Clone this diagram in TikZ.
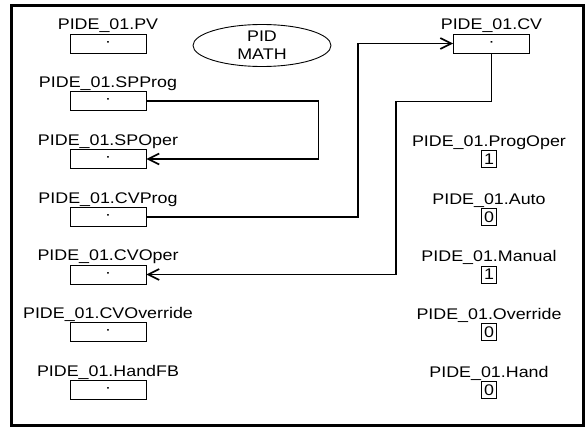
\documentclass[tikz,border=0pt]{standalone}
\usepackage{fontspec}
\setmainfont[FakeStretch=1.16]{Liberation Sans}
\usetikzlibrary{shapes,arrows.meta,positioning}

\begin{document}
\begin{tikzpicture}[x=1pt,y=1pt, node distance=57.75pt, on grid,
  every node/.style={font=\fontsize{15.4}{18}\selectfont},
  every label/.style={inner sep=0pt,text depth=0pt}, label distance=3.5pt,
  tag/.style={draw,line width=0.9pt,minimum width=76pt,minimum height=19pt,inner sep=0pt},
  bit/.style={draw,line width=0.9pt,minimum width=15pt,minimum height=17pt,inner sep=0pt,label distance=5pt},
  wire/.style={line width=1.6pt,-{Straight Barb[length=11pt,width=11pt]}}]
  \useasboundingbox (0,0) rectangle (587,-428);
  \draw[line width=3pt] (11.5,-6) rectangle (583.5,-425.5);

  % Tags on the left
  \node[tag,label={above:PIDE\_01.PV}] (pv) at (108,-43.5) {·};
  \node[tag,label={above:PIDE\_01.SPProg}] (spprog) [below=of pv] {·};
  \node[tag,label={above:PIDE\_01.SPOper}] (spoper) [below=of spprog] {·};
  \node[tag,label={above:PIDE\_01.CVProg}] (cvprog) [below=of spoper] {·};
  \node[tag,label={above:PIDE\_01.CVOper}] (cvoper) [below=of cvprog] {·};
  \node[tag,label={above:PIDE\_01.CVOverride}] (cvovr) [below=of cvoper] {·};
  \node[tag,label={above:PIDE\_01.HandFB}] (handfb) [below=of cvovr] {·};

  % Block and output
  \node[draw,ellipse,line width=0.9pt,minimum width=138pt,minimum height=42pt,inner sep=0pt,align=center] (math) at (262,-45.5) {PID\\MATH};
  \node[tag,label={above:PIDE\_01.CV}] (cv) at (491.5,-43.5) {·};

  % Status bits on the right
  \node[bit,label={above:PIDE\_01.ProgOper}] (progoper) at (489,-159) {1};
  \node[bit,label={above:PIDE\_01.Auto}] (auto) [below=of progoper] {0};
  \node[bit,label={above:PIDE\_01.Manual}] (manual) [below=of auto] {1};
  \node[bit,label={above:PIDE\_01.Override}] (override) [below=of manual] {0};
  \node[bit,label={above:PIDE\_01.Hand}] (hand) [below=of override] {0};

  % Wires
  \coordinate (jA) at (318.5,-130);
  \coordinate (jB) at (358,-120);
  \coordinate (jC) at (396,-101.5);
  \draw[wire] (spprog.east) -| (jA) |- (spoper.east);
  \draw[wire] (cvprog.east) -| (jB) |- (cv.west);
  \draw[wire] (cv.south) |- (jC) |- (cvoper.east);
\end{tikzpicture}
\end{document}
